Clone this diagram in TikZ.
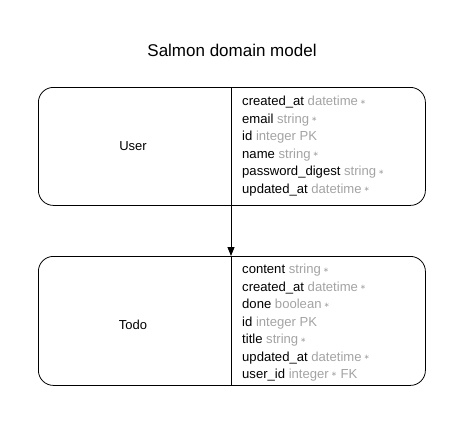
\documentclass[tikz,border=0pt]{standalone}
\usepackage{fontspec}
\setmainfont{Liberation Sans}
\newfontfamily\djv{DejaVu Sans}
\usetikzlibrary{arrows.meta}
\definecolor{typegrey}{HTML}{A3A3A3}
\newcommand{\nn}{\,{\djv\fontsize{7}{7}\selectfont\raisebox{0.3ex}{∗}}}
\tikzset{
  entity/.style={draw, line width=0.8pt, rounded corners=15pt, minimum width=387pt, inner sep=0pt, anchor=north west},
  row/.style={anchor=base west, inner sep=0pt, font=\fontsize{13.1}{15}\selectfont},
  ename/.style={font=\fontsize{13}{15}\selectfont}
}
\newcommand{\ty}[1]{\textcolor{typegrey}{#1}}
\begin{document}
\begin{tikzpicture}[x=1pt,y=-1pt]
\useasboundingbox (0,0) rectangle (463,431);
\node[font=\fontsize{17}{20}\selectfont] (title) at (232,50) {Salmon domain model};
% User
\node[entity, minimum height=118pt] (user) at (38,87) {};
\draw[line width=0.8pt] (231,87) coordinate (ud1) -- (231,205) coordinate (ud2);
\node[ename] (uname) at (133,146) {User};
\node[row] (u1) at (242,105.5) {created\_at \ty{datetime\nn}};
\node[row] (u2) at (242,123) {email \ty{string\nn}};
\node[row] (u3) at (242,140.5) {id \ty{integer PK}};
\node[row] (u4) at (242,158) {name \ty{string\nn}};
\node[row] (u5) at (242,175.5) {password\_digest \ty{string\nn}};
\node[row] (u6) at (242,193) {updated\_at \ty{datetime\nn}};
% Todo
\node[entity, minimum height=129pt] (todo) at (38,256) {};
\draw[line width=0.8pt] (231,256) coordinate (td1) -- (231,385) coordinate (td2);
\node[ename] (tname) at (133,325) {Todo};
\node[row] (t1) at (242,273.5) {content \ty{string\nn}};
\node[row] (t2) at (242,291) {created\_at \ty{datetime\nn}};
\node[row] (t3) at (242,308.5) {done \ty{boolean\nn}};
\node[row] (t4) at (242,326) {id \ty{integer PK}};
\node[row] (t5) at (242,343.5) {title \ty{string\nn}};
\node[row] (t6) at (242,361) {updated\_at \ty{datetime\nn}};
\node[row] (t7) at (242,378) {user\_id \ty{integer\nn\ FK}};
% connector
\draw[line width=0.8pt, -{Triangle[length=9pt,width=7pt]}] (ud2) -- (td1);
\end{tikzpicture}
\end{document}
